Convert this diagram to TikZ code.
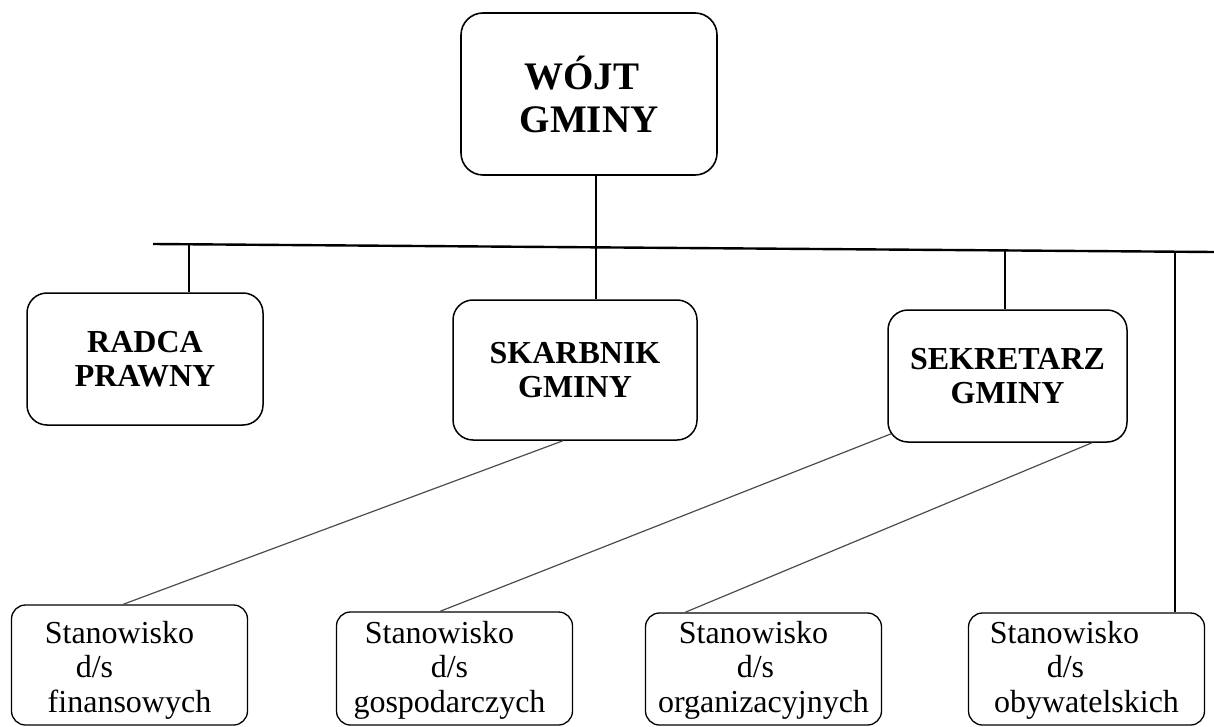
\documentclass[tikz,border=0pt]{standalone}
\usepackage{fontspec}
\setmainfont{Liberation Serif}[BoldFont={Liberation Serif Bold}]
\usetikzlibrary{calc}
\newcommand{\shl}[1]{\hbox to #1pt{}}
\begin{document}
\begin{tikzpicture}[x=1pt,y=-1pt,
  bigbox/.style={draw, line width=1.6pt, rounded corners=22pt, align=center, inner sep=0pt,
    font=\bfseries\fontsize{39}{43}\selectfont, minimum width=256pt, minimum height=162pt},
  midbox/.style={draw, line width=1.5pt, rounded corners=20pt, align=center, inner sep=0pt,
    font=\bfseries\fontsize{32}{34.5}\selectfont},
  lowbox/.style={draw, line width=1.3pt, rounded corners=14pt, inner sep=0pt, minimum width=236pt},
  lowtext/.style={align=center, inner sep=0pt, font=\fontsize{32}{34.5}\selectfont},
  conn/.style={line width=2.4pt},
  diag/.style={line width=1.2pt, black!70}]
\useasboundingbox (0,0) rectangle (1214,727);

% upper boxes
\node[bigbox] (wojt) at (589,94) {WÓJT\shl{14}\\GMINY};
\node[midbox, minimum width=236pt, minimum height=132pt] (radca) at (145,359) {RADCA\\PRAWNY};
\node[midbox, minimum width=244pt, minimum height=140pt] (skarb) at (575,370) {SKARBNIK\\GMINY};
\node[midbox, minimum width=239pt, minimum height=132pt] (sekr) at (1007.5,376) {SEKRETARZ\\GMINY};

% lower boxes
\node[lowbox, minimum height=120pt] (fin)  at (129.5,665) {};
\node[lowbox, minimum height=113pt] (gosp) at (454.5,668.5) {};
\node[lowbox, minimum height=112pt] (org)  at (763.5,669) {};
\node[lowbox, minimum height=112pt] (obyw) at (1086.5,669) {};
\node[lowtext] (finT)  at (129.5,670) {Stanowisko\shl{20}\\d/s\shl{70}\\finansowych};
\node[lowtext] (gospT) at (454.5,670) {Stanowisko\shl{30}\\d/s\shl{10}\\gospodarczych\shl{10}};
\node[lowtext] (orgT)  at (763.5,670) {Stanowisko\shl{20}\\d/s\shl{16}\\organizacyjnych};
\node[lowtext] (obywT) at (1086.5,670) {Stanowisko\shl{44}\\d/s\shl{42}\\obywatelskich};

% bus
\coordinate (busL) at (153,244);
\coordinate (busR) at (1214,252);
\coordinate (b1) at (189,244.3);
\coordinate (b2) at (596,247.3);
\coordinate (b3) at (1005,250.4);
\coordinate (b4) at (1175,251.7);
\draw[conn] (busL) -- (busR);
\draw[conn] (wojt.south -| b2) -- (b2) -- (skarb.north -| b2);
\draw[conn] (b1) -- (radca.north -| b1);
\draw[conn] (b3) -- (sekr.north -| b3);
\draw[conn] (b4) -- (obyw.north -| b4);

% diagonal links
\draw[diag] ($(skarb.south)+(-12,0)$) -- ($(fin.north)+(-6.5,0)$);
\draw[diag] ($(sekr.south west)+(4,-9)$) -- ($(gosp.north)+(-14.5,0)$);
\draw[diag] ($(sekr.south)+(84.5,0)$) -- ($(org.north)+(-78.5,0)$);
\end{tikzpicture}
\end{document}
